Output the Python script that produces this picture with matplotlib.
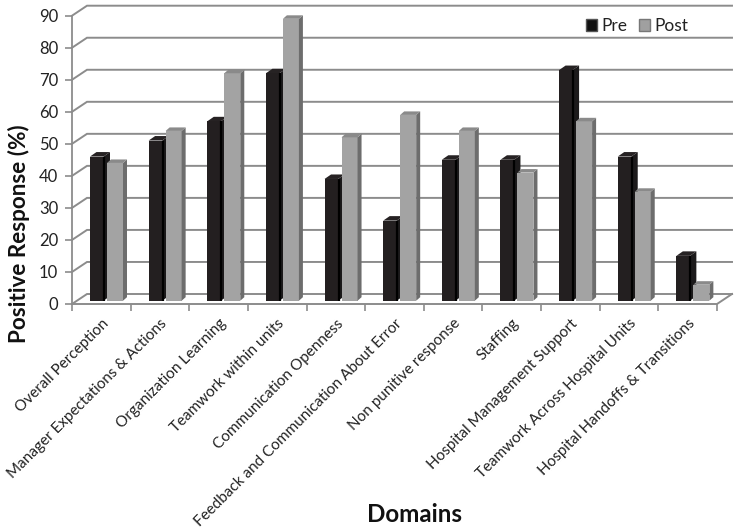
import matplotlib
matplotlib.use("Agg")
import matplotlib.pyplot as plt
from matplotlib.patches import Polygon, Patch

categories = ["Overall Perception", "Manager Expectations & Actions", "Organization Learning",
              "Teamwork within units", "Communication Openness",
              "Feedback and Communication About Error", "Non punitive response", "Staffing",
              "Hospital Management Support", "Teamwork Across Hospital Units",
              "Hospital Handoffs & Transitions"]
pre = [45, 50, 56, 71, 38, 25, 44, 44, 72, 45, 14]
post = [43, 53, 71, 88, 51, 58, 53, 40, 56, 34, 5]
yticks = list(range(0, 100, 10))

W, H = 738, 530
L, R, T, B = 72.0, 717.0, 15.7, 304.0
plt.rcParams["font.family"] = ["Lato", "Open Sans", "DejaVu Sans"]
fig = plt.figure(figsize=(W / 100, H / 100), dpi=100, facecolor="white")
ax = fig.add_axes([L / W, 1 - B / H, (R - L) / W, (B - T) / H])
ax.set_xlim(0, 11)
ax.set_ylim(0, 90)
px = 11 / (R - L)      # data units per pixel, x
py = 90 / (B - T)      # data units per pixel, y
for s in ["top", "right", "bottom"]:
    ax.spines[s].set_visible(False)
ax.spines["left"].set_color("#8c8c8c")
ax.spines["left"].set_linewidth(1.3)

GRID = "#8c8c8c"
dx, dy = 15 * px, 10 * py
for v in yticks:
    ax.plot([0, dx, 11 + dx], [v, v + dy, v + dy], color=GRID, lw=1.4, clip_on=False, zorder=1,
            solid_joinstyle="miter")
ax.plot([0, 11, 11 + dx], [0, 0, dy], color=GRID, lw=1.4, clip_on=False, zorder=1)

BASE = 3.3 * py


def bar3d(x0, w, h, front, side, top, sw, rise, z):
    b = ax.bar(x0, h, width=w, bottom=BASE, align="edge", color=front, lw=0, zorder=z, clip_on=False)
    xr = x0 + w
    ax.add_patch(Polygon([(xr, BASE), (xr + sw, BASE + rise), (xr + sw, BASE + h + rise), (xr, BASE + h)],
                         closed=True, fc=side, lw=0, zorder=z, clip_on=False))
    ax.add_patch(Polygon([(x0, BASE + h), (x0 + sw, BASE + h + rise), (xr + sw, BASE + h + rise), (xr, BASE + h)],
                         closed=True, fc=top, lw=0, zorder=z, clip_on=False))
    return b


for i, (a, b) in enumerate(zip(pre, post)):
    x_pre = i + 18 * px
    x_post = i + 35 * px
    bar3d(x_pre, 13.5 * px, a, "#231f20", "#1c1a1b", "#262223", 6.5 * px, 4.5 * py, 3)
    ax.plot([x_pre + 14 * px] * 2, [BASE, BASE + a], color="#000000", lw=1.6, zorder=3.5,
            solid_capstyle="butt", clip_on=False)
    bar3d(x_post, 16 * px, b, "#a3a3a3", "#6d6d6d", "#8a8a8a", 4 * px, 3.5 * py, 4)

ax.set_yticks(yticks)
ax.set_xticks(range(12))
ax.set_xticklabels([])
ax.tick_params(axis="y", length=5, width=1.2, color=GRID, labelsize=12, labelcolor="#222222", pad=5)
ax.tick_params(axis="x", length=5, width=1.2, color=GRID)

for i, c in enumerate(categories):
    ax.annotate(c, xy=(i + 0.5, 0), xytext=(0, -9), textcoords="offset points", rotation=45,
                rotation_mode="anchor", ha="right", va="top", fontsize=11, color="#222222",
                annotation_clip=False)

fig.text(18.5 / W, 1 - 234 / H, "Positive Response (%)", rotation=90, ha="center", va="center",
         fontsize=16.2, fontweight="bold", color="#111111")
fig.text(414 / W, 1 - 514 / H, "Domains", ha="center", va="center",
         fontsize=17.4, fontweight="bold", color="#111111")

handles = [Patch(fc="#111111", ec="#555555", label="Pre"), Patch(fc="#a0a0a0", ec="#777777", label="Post")]
ax.legend(handles=handles, ncol=2, frameon=False, loc="center left",
          bbox_to_anchor=((586 - L) / (R - L), 1 - (26 - T) / (B - T)),
          fontsize=12.5, handlelength=0.63, handleheight=0.63, handletextpad=0.25, columnspacing=0.7,
          borderpad=0, borderaxespad=0, labelcolor="#222222")

fig.savefig("out.png", dpi=100, facecolor="white")
